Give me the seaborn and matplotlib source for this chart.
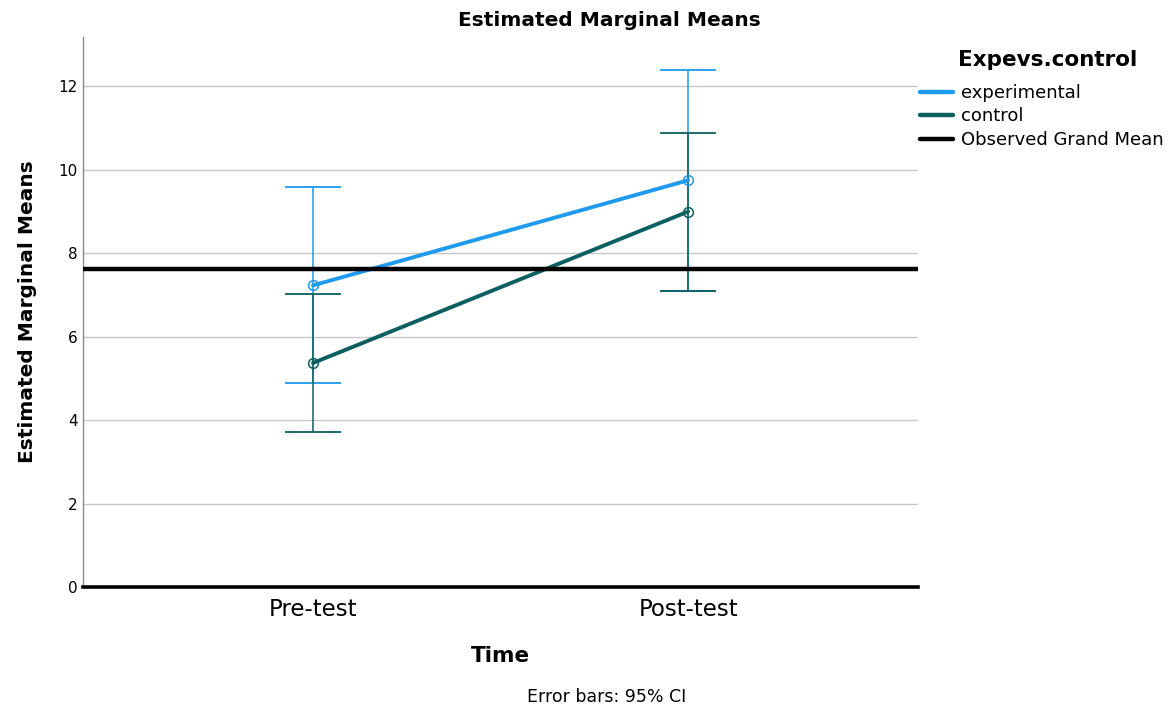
import numpy as np
import pandas as pd
import matplotlib
matplotlib.use("Agg")
import matplotlib.pyplot as plt
import seaborn as sns
from matplotlib.lines import Line2D

# ==============================
# Data
# ==============================
times = ["Pre-test", "Post-test"]
groups = ["experimental", "control"]
exp_means = [7.23, 9.75]
exp_lower = [4.89, 7.10]
exp_upper = [9.60, 12.40]
ctl_means = [5.37, 9.00]
ctl_lower = [3.71, 7.10]
ctl_upper = [7.03, 10.88]
grand_mean = 7.63
y_ticks = [0, 2, 4, 6, 8, 10, 12]

colors = {"experimental": "#1e9bef", "control": "#0b5f5f"}

df = pd.DataFrame({
    "Time": times * 2,
    "group": ["experimental"] * 2 + ["control"] * 2,
    "mean": exp_means + ctl_means,
    "lower": exp_lower + ctl_lower,
    "upper": exp_upper + ctl_upper,
})

sns.set_style("white")
plt.rcParams["font.family"] = ["DejaVu Sans"]
plt.rcParams["text.color"] = "black"
plt.rcParams["axes.labelcolor"] = "black"
plt.rcParams["xtick.color"] = "black"
plt.rcParams["ytick.color"] = "black"

fig = plt.figure(figsize=(11.68, 7.08), dpi=100)
ax = fig.add_axes([0.0711, 0.171, 0.7149, 0.777])

# grid
for t in y_ticks[1:]:
    ax.axhline(t, color="#c8c8c8", lw=1.0, zorder=0)

# main lines with open markers
sns.lineplot(data=df, x="Time", y="mean", hue="group", hue_order=groups,
             palette=colors, lw=2.8, marker="o", markersize=7,
             markerfacecolor="none", markeredgewidth=1.1,
             legend=False, ax=ax, zorder=3)
for ln in ax.lines:
    ln.set_markeredgecolor(ln.get_color())

# error bars (thin), control drawn on top of experimental
for g, z in [("experimental", 2), ("control", 2.5)]:
    sub = df[df["group"] == g]
    eb = ax.errorbar(sub["Time"], sub["mean"],
                     yerr=[sub["mean"] - sub["lower"],
                           sub["upper"] - sub["mean"]],
                     fmt="none", ecolor=colors[g], elinewidth=1.1,
                     capsize=20, capthick=1.3, zorder=z)
    _, caps, bars = eb.lines
    for c in caps:
        c.set_color(colors[g])
        c.set_markeredgecolor(colors[g])
        c.set_zorder(z)
    for b in bars:
        b.set_color(colors[g])
        b.set_zorder(z)

ax.axhline(grand_mean, color="black", lw=3.2, zorder=4)

ax.set_xlim(-0.613, 1.613)
ax.set_ylim(0, 13.19)
ax.set_yticks(y_ticks)
ax.tick_params(axis="y", labelsize=11, length=0, pad=4)
ax.tick_params(axis="x", labelsize=16.5, length=0, pad=8)

for s in ["top", "right"]:
    ax.spines[s].set_visible(False)
ax.spines["left"].set_color("#8a8a8a")
ax.spines["left"].set_linewidth(1.0)
ax.spines["bottom"].set_color("black")
ax.spines["bottom"].set_linewidth(2.6)

ax.set_xlabel("Time", fontsize=15.5, fontweight="bold", labelpad=18)
ax.set_ylabel("Estimated Marginal Means", fontsize=14.5, fontweight="bold",
              labelpad=15)

fig.text(609 / 1168, 1 - 20 / 708, "Estimated Marginal Means", fontsize=14.5,
         fontweight="bold", ha="center", va="center")
fig.text(607 / 1168, 1 - 697 / 708, "Error bars: 95% CI", fontsize=12.5,
         ha="center", va="center")

# legend
fig.text(958 / 1168, 1 - 60 / 708, "Expevs.control", fontsize=15.5,
         fontweight="bold", ha="left", va="center")
handles = [Line2D([], [], color=colors["experimental"], lw=3.2),
           Line2D([], [], color=colors["control"], lw=3.2),
           Line2D([], [], color="black", lw=3.2)]
fig.legend(handles, ["experimental", "control", "Observed Grand Mean"],
           loc="upper left", bbox_to_anchor=(920 / 1168, 1 - 84 / 708),
           frameon=False, fontsize=13, handlelength=1.85,
           handletextpad=0.4, labelspacing=0.3, borderaxespad=0,
           borderpad=0)

fig.savefig("out.png", dpi=100)
